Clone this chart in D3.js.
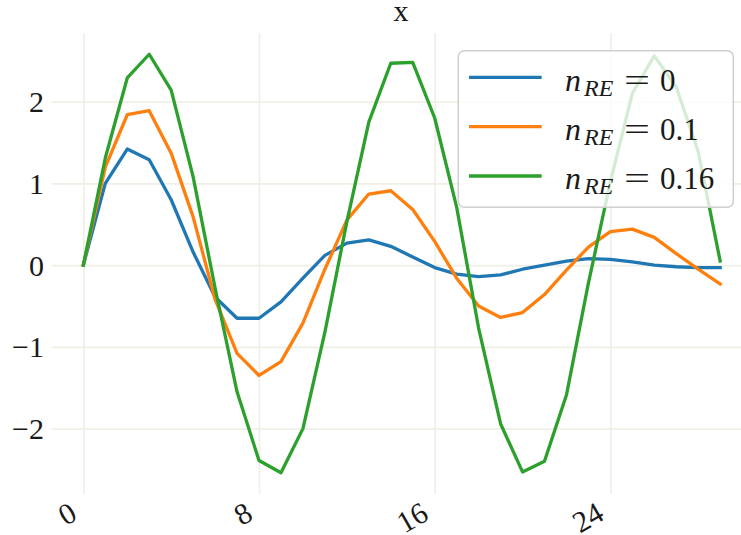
<!DOCTYPE html>
<html>
<head>
<meta charset="utf-8">
<script src="https://cdn.jsdelivr.net/npm/d3@7"></script>
<style>
  html, body { margin: 0; padding: 0; background: #fff; }
  svg { display: block; }
</style>
</head>
<body>
<svg id="chart" width="741" height="535"></svg>
<script>
// ---- data ----
const steps = d3.range(0, 30);
const seriesNames = ["0", "0.1", "0.16"];
const seriesColors = ["#1f77b4", "#ff7f0e", "#2ca02c"];
const nRE0 = [0, 1.00, 1.42, 1.29, 0.80, 0.16, -0.39, -0.65, -0.65, -0.45, -0.16, 0.12, 0.27, 0.31, 0.23, 0.10, -0.03, -0.11, -0.14, -0.12, -0.05, 0.00, 0.05, 0.08, 0.07, 0.04, 0.00, -0.02, -0.03, -0.03];
const nRE01 = [0, 1.20, 1.84, 1.89, 1.37, 0.59, -0.42, -1.08, -1.35, -1.18, -0.71, -0.05, 0.55, 0.87, 0.91, 0.68, 0.29, -0.16, -0.50, -0.64, -0.58, -0.36, -0.06, 0.22, 0.41, 0.44, 0.34, 0.14, -0.05, -0.23];
const nRE016 = [0, 1.31, 2.29, 2.58, 2.14, 1.08, -0.28, -1.55, -2.39, -2.54, -2.00, -0.82, 0.53, 1.75, 2.47, 2.48, 1.80, 0.71, -0.77, -1.94, -2.53, -2.40, -1.59, -0.22, 1.02, 2.10, 2.56, 2.18, 1.39, 0.05];
const xTicks = [0, 8, 16, 24];
const yTicks = [-2, -1, 0, 1, 2];
const titleText = "x";

const series = [nRE0, nRE01, nRE016];

// ---- layout ----
const svg = d3.select("#chart");
const pL = 51.5, pR = 752, pT = 33, pB = 494;
const fs = 30;
const serif = "'Liberation Serif', 'DejaVu Serif', serif";
const ink = "#1a1a1a";

const x = d3.scaleLinear().domain([-1.45, 30.45]).range([pL, pR]);
const y = d3.scaleLinear().domain([-2.80, 2.84]).range([pB, pT]);

// grid
const gridColor = "#efefe6";
svg.append("g")
  .attr("transform", `translate(0,${pB})`)
  .call(d3.axisBottom(x).tickValues(xTicks).tickSize(-(pB - pT)).tickFormat(""))
  .call(g => g.select(".domain").remove())
  .call(g => g.selectAll("line").attr("stroke", gridColor).attr("stroke-width", 1.6));
svg.append("g")
  .attr("transform", `translate(${pL},0)`)
  .call(d3.axisLeft(y).tickValues(yTicks).tickSize(-(pR - pL)).tickFormat(""))
  .call(g => g.select(".domain").remove())
  .call(g => g.selectAll("line").attr("stroke", gridColor).attr("stroke-width", 1.6));

// y tick labels
const yAx = svg.append("g")
  .attr("transform", `translate(44,0)`)
  .call(d3.axisLeft(y).tickValues(yTicks).tickSize(0).tickPadding(0)
        .tickFormat(d => d < 0 ? "\u2212" + Math.abs(d) : String(d)));
yAx.select(".domain").remove();
yAx.selectAll("text")
  .style("font-family", serif)
  .attr("font-size", fs)
  .attr("fill", ink)
  .attr("dy", null)
  .attr("y", 10);

// x tick labels (rotated 30deg, right-aligned)
const xAx = svg.append("g")
  .attr("transform", `translate(0,${pB})`)
  .call(d3.axisBottom(x).tickValues(xTicks).tickSize(0).tickFormat(d => String(d)));
xAx.select(".domain").remove();
const ang = -30;
xAx.selectAll("text")
  .style("font-family", serif)
  .attr("font-size", fs)
  .attr("fill", ink)
  .attr("text-anchor", "end")
  .attr("dy", null)
  .attr("y", 0)
  .each(function() {
    const h = 0.66 * fs;
    const a = ang * Math.PI / 180;
    const minY = -h * Math.cos(a);
    d3.select(this).attr("transform", `translate(-5,${7.5 - minY}) rotate(${ang})`);
  });

// lines
const line = d3.line().x((d, i) => x(steps[i])).y(d => y(d));
series.forEach((s, k) => {
  svg.append("path")
    .datum(s)
    .attr("d", line)
    .attr("fill", "none")
    .attr("stroke", seriesColors[k])
    .attr("stroke-width", 3.3)
    .attr("stroke-linejoin", "round")
    .attr("stroke-linecap", "square");
});

// title
svg.append("text")
  .attr("x", 401).attr("y", 20.7)
  .attr("text-anchor", "middle")
  .style("font-family", serif)
  .attr("font-size", fs)
  .attr("fill", ink)
  .text(titleText);

// legend
const lg = svg.append("g");
lg.append("rect")
  .attr("x", 458.3).attr("y", 50.7)
  .attr("width", 275).attr("height", 156.6)
  .attr("rx", 6).attr("ry", 6)
  .attr("fill", "white").attr("fill-opacity", 0.8)
  .attr("stroke", "#cfcfcf").attr("stroke-width", 1.5);
seriesNames.forEach((nm, k) => {
  const ly = 77.3 + k * 49.35;
  lg.append("line")
    .attr("x1", 470.7).attr("x2", 540)
    .attr("y1", ly).attr("y2", ly)
    .attr("stroke", seriesColors[k]).attr("stroke-width", 3.3)
    .attr("stroke-linecap", "square");
  const base = ly + 13.4;
  const g = lg.append("g").style("font-family", serif).attr("fill", ink);
  g.append("text").attr("x", 565).attr("y", base)
    .attr("font-size", 32).attr("font-style", "italic").text("n");
  g.append("text").attr("x", 584).attr("y", base + 5)
    .attr("font-size", 24).attr("font-style", "italic").text("RE");
  g.append("text").attr("x", 624).attr("y", base)
    .attr("font-size", 32)
    .attr("textLength", 26).attr("lengthAdjust", "spacingAndGlyphs").text("=");
  g.append("text").attr("x", 660).attr("y", base)
    .attr("font-size", 31).text(nm);
});
</script>
</body>
</html>
